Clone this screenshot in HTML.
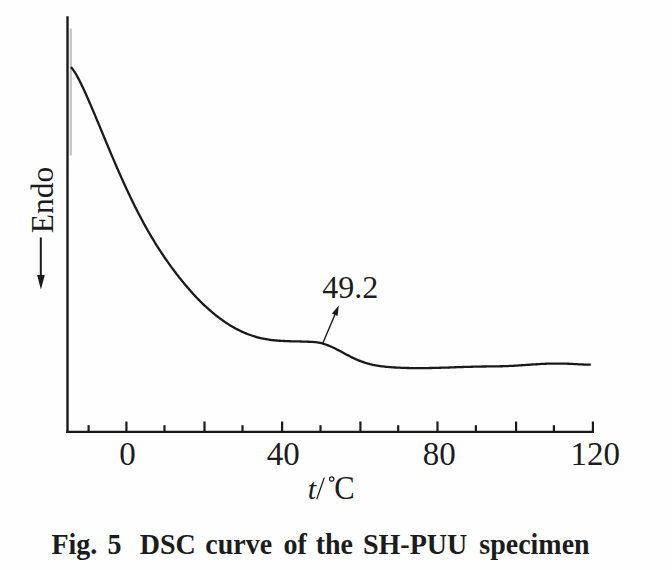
<!DOCTYPE html>
<html><head><meta charset="utf-8"><style>
html,body{margin:0;padding:0;background:#fff;width:672px;height:570px;overflow:hidden;}
svg{position:absolute;left:0;top:0;}
text{font-family:"Liberation Serif",serif;fill:#1c1c1c;}
</style></head><body>
<svg width="672" height="570" viewBox="0 0 672 570">
<rect x="0" y="0" width="672" height="570" fill="#fefefe"/>
<line x1="70.8" y1="28.5" x2="70.8" y2="155.5" stroke="#c3c3c3" stroke-width="2.2"/>
<path d="M67.5 16.2 V432.9" fill="none" stroke="#1a1a1a" stroke-width="2.4"/>
<path d="M66.3 431.8 H594" fill="none" stroke="#1a1a1a" stroke-width="2.2"/>
<g stroke="#1a1a1a" stroke-width="2.2"><line x1="88.6" y1="425.2" x2="88.6" y2="431" /><line x1="126.4" y1="421.5" x2="126.4" y2="431" /><line x1="164.5" y1="425.2" x2="164.5" y2="431" /><line x1="204.5" y1="421.5" x2="204.5" y2="431" /><line x1="242.5" y1="425.2" x2="242.5" y2="431" /><line x1="282.1" y1="421.5" x2="282.1" y2="431" /><line x1="320.5" y1="425.2" x2="320.5" y2="431" /><line x1="360.4" y1="421.5" x2="360.4" y2="431" /><line x1="398.2" y1="425.2" x2="398.2" y2="431" /><line x1="437.5" y1="421.5" x2="437.5" y2="431" /><line x1="475.9" y1="425.2" x2="475.9" y2="431" /><line x1="516.1" y1="421.5" x2="516.1" y2="431" /><line x1="553.9" y1="425.2" x2="553.9" y2="431" /><line x1="592.9" y1="421.5" x2="592.9" y2="431" /></g>
<path d="M71.00 67.00 L71.92 68.21 L72.81 69.43 L73.67 70.67 L74.51 71.92 L75.32 73.19 L76.10 74.47 L76.87 75.77 L77.61 77.07 L78.33 78.39 L79.04 79.72 L79.73 81.05 L80.41 82.40 L81.07 83.75 L81.72 85.10 L82.37 86.47 L83.00 87.83 L83.63 89.20 L84.26 90.57 L84.88 91.94 L85.50 93.31 L86.12 94.69 L86.73 96.06 L87.34 97.44 L87.95 98.82 L88.55 100.19 L89.15 101.57 L89.75 102.96 L90.35 104.34 L90.95 105.72 L91.54 107.10 L92.13 108.49 L92.72 109.87 L93.31 111.26 L93.90 112.64 L94.49 114.03 L95.07 115.42 L95.65 116.81 L96.23 118.20 L96.82 119.59 L97.40 120.98 L97.97 122.37 L98.55 123.76 L99.13 125.15 L99.71 126.54 L100.29 127.93 L100.86 129.32 L101.44 130.71 L102.02 132.10 L102.60 133.50 L103.17 134.89 L103.75 136.28 L104.33 137.67 L104.91 139.06 L105.49 140.45 L106.07 141.84 L106.64 143.24 L107.23 144.63 L107.81 146.02 L108.39 147.41 L108.97 148.80 L109.55 150.19 L110.14 151.58 L110.72 152.96 L111.31 154.35 L111.90 155.74 L112.48 157.13 L113.07 158.51 L113.66 159.90 L114.26 161.29 L114.85 162.67 L115.45 164.05 L116.04 165.44 L116.64 166.82 L117.24 168.20 L117.84 169.58 L118.44 170.96 L119.05 172.34 L119.66 173.72 L120.27 175.10 L120.88 176.48 L121.49 177.85 L122.11 179.23 L122.72 180.60 L123.34 181.97 L123.96 183.34 L124.59 184.71 L125.22 186.08 L125.84 187.45 L126.48 188.81 L127.11 190.18 L127.75 191.54 L128.39 192.90 L129.03 194.26 L129.68 195.62 L130.33 196.98 L130.98 198.34 L131.63 199.69 L132.29 201.04 L132.95 202.39 L133.62 203.74 L134.28 205.09 L134.95 206.44 L135.63 207.78 L136.31 209.13 L136.99 210.47 L137.67 211.80 L138.36 213.14 L139.06 214.48 L139.75 215.81 L140.45 217.14 L141.16 218.47 L141.86 219.80 L142.58 221.12 L143.29 222.44 L144.01 223.77 L144.74 225.08 L145.47 226.40 L146.20 227.71 L146.94 229.03 L147.68 230.33 L148.43 231.64 L149.18 232.95 L149.94 234.25 L150.70 235.55 L151.47 236.84 L152.24 238.14 L153.01 239.43 L153.79 240.72 L154.58 242.01 L155.37 243.29 L156.17 244.57 L156.97 245.85 L157.78 247.13 L158.59 248.40 L159.40 249.67 L160.23 250.94 L161.06 252.20 L161.89 253.46 L162.73 254.72 L163.57 255.98 L164.43 257.23 L165.28 258.48 L166.14 259.72 L167.01 260.96 L167.88 262.20 L168.75 263.43 L169.64 264.66 L170.52 265.89 L171.41 267.11 L172.31 268.33 L173.21 269.55 L174.12 270.75 L175.03 271.96 L175.94 273.16 L176.86 274.36 L177.79 275.55 L178.72 276.74 L179.65 277.92 L180.59 279.09 L181.54 280.27 L182.49 281.43 L183.44 282.60 L184.40 283.75 L185.36 284.90 L186.32 286.05 L187.30 287.19 L188.27 288.32 L189.25 289.45 L190.23 290.58 L191.22 291.69 L192.21 292.80 L193.21 293.91 L194.22 295.01 L195.23 296.10 L196.24 297.19 L197.27 298.27 L198.30 299.34 L199.34 300.41 L200.39 301.48 L201.45 302.53 L202.52 303.58 L203.60 304.62 L204.69 305.66 L205.79 306.69 L206.91 307.71 L208.03 308.72 L209.16 309.73 L210.30 310.73 L211.46 311.71 L212.62 312.69 L213.79 313.66 L214.98 314.62 L216.17 315.57 L217.37 316.50 L218.58 317.43 L219.81 318.34 L221.04 319.24 L222.28 320.13 L223.53 321.00 L224.78 321.86 L226.05 322.71 L227.33 323.54 L228.61 324.36 L229.90 325.16 L231.20 325.94 L232.51 326.71 L233.83 327.47 L235.15 328.20 L236.49 328.92 L237.83 329.62 L239.18 330.30 L240.53 330.96 L241.90 331.61 L243.27 332.23 L244.64 332.84 L246.03 333.42 L247.42 333.98 L248.82 334.52 L250.23 335.04 L251.64 335.54 L253.06 336.02 L254.48 336.47 L255.91 336.90 L257.35 337.30 L258.79 337.68 L260.24 338.04 L261.70 338.37 L263.16 338.67 L264.63 338.96 L266.10 339.22 L267.57 339.46 L269.05 339.68 L270.54 339.88 L272.03 340.07 L273.52 340.24 L275.02 340.39 L276.52 340.52 L278.02 340.65 L279.52 340.76 L281.03 340.86 L282.54 340.94 L284.05 341.02 L285.56 341.09 L287.08 341.15 L288.59 341.20 L290.11 341.25 L291.63 341.29 L293.14 341.33 L294.66 341.37 L296.18 341.40 L297.69 341.44 L299.21 341.47 L300.73 341.51 L302.24 341.54 L303.75 341.58 L305.26 341.63 L306.77 341.68 L308.28 341.73 L309.78 341.79 L311.28 341.86 L312.78 341.95 L314.27 342.06 L315.76 342.20 L317.23 342.37 L318.70 342.60 L320.16 342.87 L321.61 343.21 L323.05 343.60 L324.48 344.04 L325.89 344.52 L327.30 345.05 L328.69 345.60 L330.08 346.19 L331.46 346.80 L332.82 347.43 L334.19 348.08 L335.54 348.75 L336.89 349.43 L338.23 350.13 L339.57 350.83 L340.91 351.54 L342.24 352.25 L343.58 352.97 L344.91 353.69 L346.24 354.40 L347.58 355.11 L348.92 355.82 L350.26 356.51 L351.60 357.19 L352.95 357.86 L354.31 358.51 L355.68 359.14 L357.05 359.76 L358.43 360.34 L359.82 360.90 L361.22 361.44 L362.63 361.94 L364.05 362.42 L365.48 362.88 L366.92 363.30 L368.37 363.70 L369.82 364.08 L371.29 364.43 L372.75 364.76 L374.23 365.07 L375.71 365.35 L377.19 365.62 L378.68 365.86 L380.17 366.08 L381.66 366.28 L383.16 366.47 L384.66 366.63 L386.16 366.79 L387.66 366.93 L389.16 367.06 L390.66 367.17 L392.17 367.28 L393.67 367.38 L395.18 367.48 L396.68 367.57 L398.19 367.65 L399.69 367.72 L401.20 367.79 L402.70 367.85 L404.20 367.90 L405.71 367.95 L407.21 367.99 L408.72 368.02 L410.22 368.05 L411.73 368.08 L413.23 368.10 L414.74 368.11 L416.24 368.12 L417.75 368.13 L419.25 368.13 L420.76 368.12 L422.26 368.12 L423.77 368.11 L425.27 368.09 L426.78 368.07 L428.28 368.05 L429.79 368.02 L431.29 367.99 L432.80 367.96 L434.30 367.93 L435.81 367.89 L437.31 367.85 L438.82 367.81 L440.32 367.77 L441.83 367.72 L443.33 367.68 L444.84 367.63 L446.34 367.58 L447.85 367.53 L449.35 367.48 L450.86 367.43 L452.36 367.38 L453.87 367.33 L455.37 367.27 L456.88 367.22 L458.39 367.17 L459.89 367.12 L461.40 367.07 L462.90 367.02 L464.41 366.97 L465.91 366.92 L467.42 366.87 L468.92 366.83 L470.43 366.79 L471.94 366.74 L473.44 366.71 L474.95 366.67 L476.45 366.63 L477.96 366.60 L479.46 366.57 L480.97 366.55 L482.47 366.52 L483.98 366.50 L485.49 366.48 L486.99 366.46 L488.50 366.44 L490.00 366.43 L491.51 366.41 L493.01 366.39 L494.52 366.37 L496.02 366.35 L497.53 366.32 L499.03 366.29 L500.54 366.26 L502.04 366.23 L503.55 366.19 L505.05 366.14 L506.56 366.09 L508.06 366.04 L509.57 365.97 L511.07 365.90 L512.58 365.83 L514.08 365.75 L515.58 365.66 L517.09 365.56 L518.59 365.47 L520.09 365.37 L521.60 365.26 L523.10 365.16 L524.60 365.05 L526.11 364.94 L527.61 364.84 L529.11 364.73 L530.62 364.62 L532.12 364.52 L533.62 364.42 L535.13 364.32 L536.63 364.23 L538.13 364.14 L539.64 364.05 L541.14 363.97 L542.64 363.90 L544.15 363.83 L545.65 363.77 L547.16 363.72 L548.66 363.68 L550.17 363.64 L551.67 363.61 L553.17 363.59 L554.68 363.57 L556.18 363.56 L557.69 363.56 L559.19 363.57 L560.70 363.58 L562.20 363.60 L563.71 363.63 L565.21 363.67 L566.72 363.71 L568.22 363.77 L569.73 363.83 L571.23 363.89 L572.74 363.97 L574.24 364.05 L575.75 364.13 L577.25 364.21 L578.76 364.29 L580.26 364.37 L581.77 364.45 L583.27 364.52 L584.78 364.58 L586.28 364.63 L587.79 364.66 L589.29 364.69 L590.80 364.70" fill="none" stroke="#1a1a1a" stroke-width="2.3" stroke-linecap="butt" stroke-linejoin="round"/>
<line x1="322.8" y1="343.2" x2="335.6" y2="313" stroke="#1a1a1a" stroke-width="1.4"/>
<path d="M338.8 305.5 L331.9 313.4 L337.6 316.0 Z" fill="#1a1a1a"/>
<g font-size="33"><text x="127.6" y="464.6" text-anchor="middle">0</text><text x="283.3" y="464.6" text-anchor="middle">40</text><text x="439.3" y="464.6" text-anchor="middle">80</text><text x="595.2" y="464.6" text-anchor="middle">120</text>
</g><g font-size="32"><text x="322.2" y="297.8">49.2</text>
<text x="307.8" y="499.3" font-style="italic" font-size="30">t</text>
<text x="334.2" y="499.3" font-size="33" transform="translate(334.2 0) scale(0.93 1) translate(-334.2 0)">C</text>
</g>
<line x1="316.7" y1="499.3" x2="324.3" y2="477.6" stroke="#1c1c1c" stroke-width="1.3"/>
<circle cx="331.7" cy="479" r="2.2" fill="none" stroke="#1c1c1c" stroke-width="1.2"/>
<text transform="translate(52.9,233.2) rotate(-90)" font-size="31.5">Endo</text>
<line x1="40.8" y1="237.4" x2="40.8" y2="278" stroke="#1a1a1a" stroke-width="2"/>
<path d="M40.9 289.5 L37.1 275 L44.8 275 Z" fill="#1a1a1a"/>
<g font-size="28" font-weight="bold" transform="translate(0 553.8) scale(1 1.06) translate(0 -553.8)">
<text x="51.5" y="553.8">Fig.</text>
<text x="107.5" y="553.8">5</text>
<text x="139.7" y="553.8">DSC</text>
<text x="205.3" y="553.8">curve</text>
<text x="283.4" y="553.8">of</text>
<text x="315.7" y="553.8">the</text>
<text x="363" y="553.8">SH-PUU</text>
<text x="479.3" y="553.8">specimen</text>
</g>
</svg>
</body></html>
